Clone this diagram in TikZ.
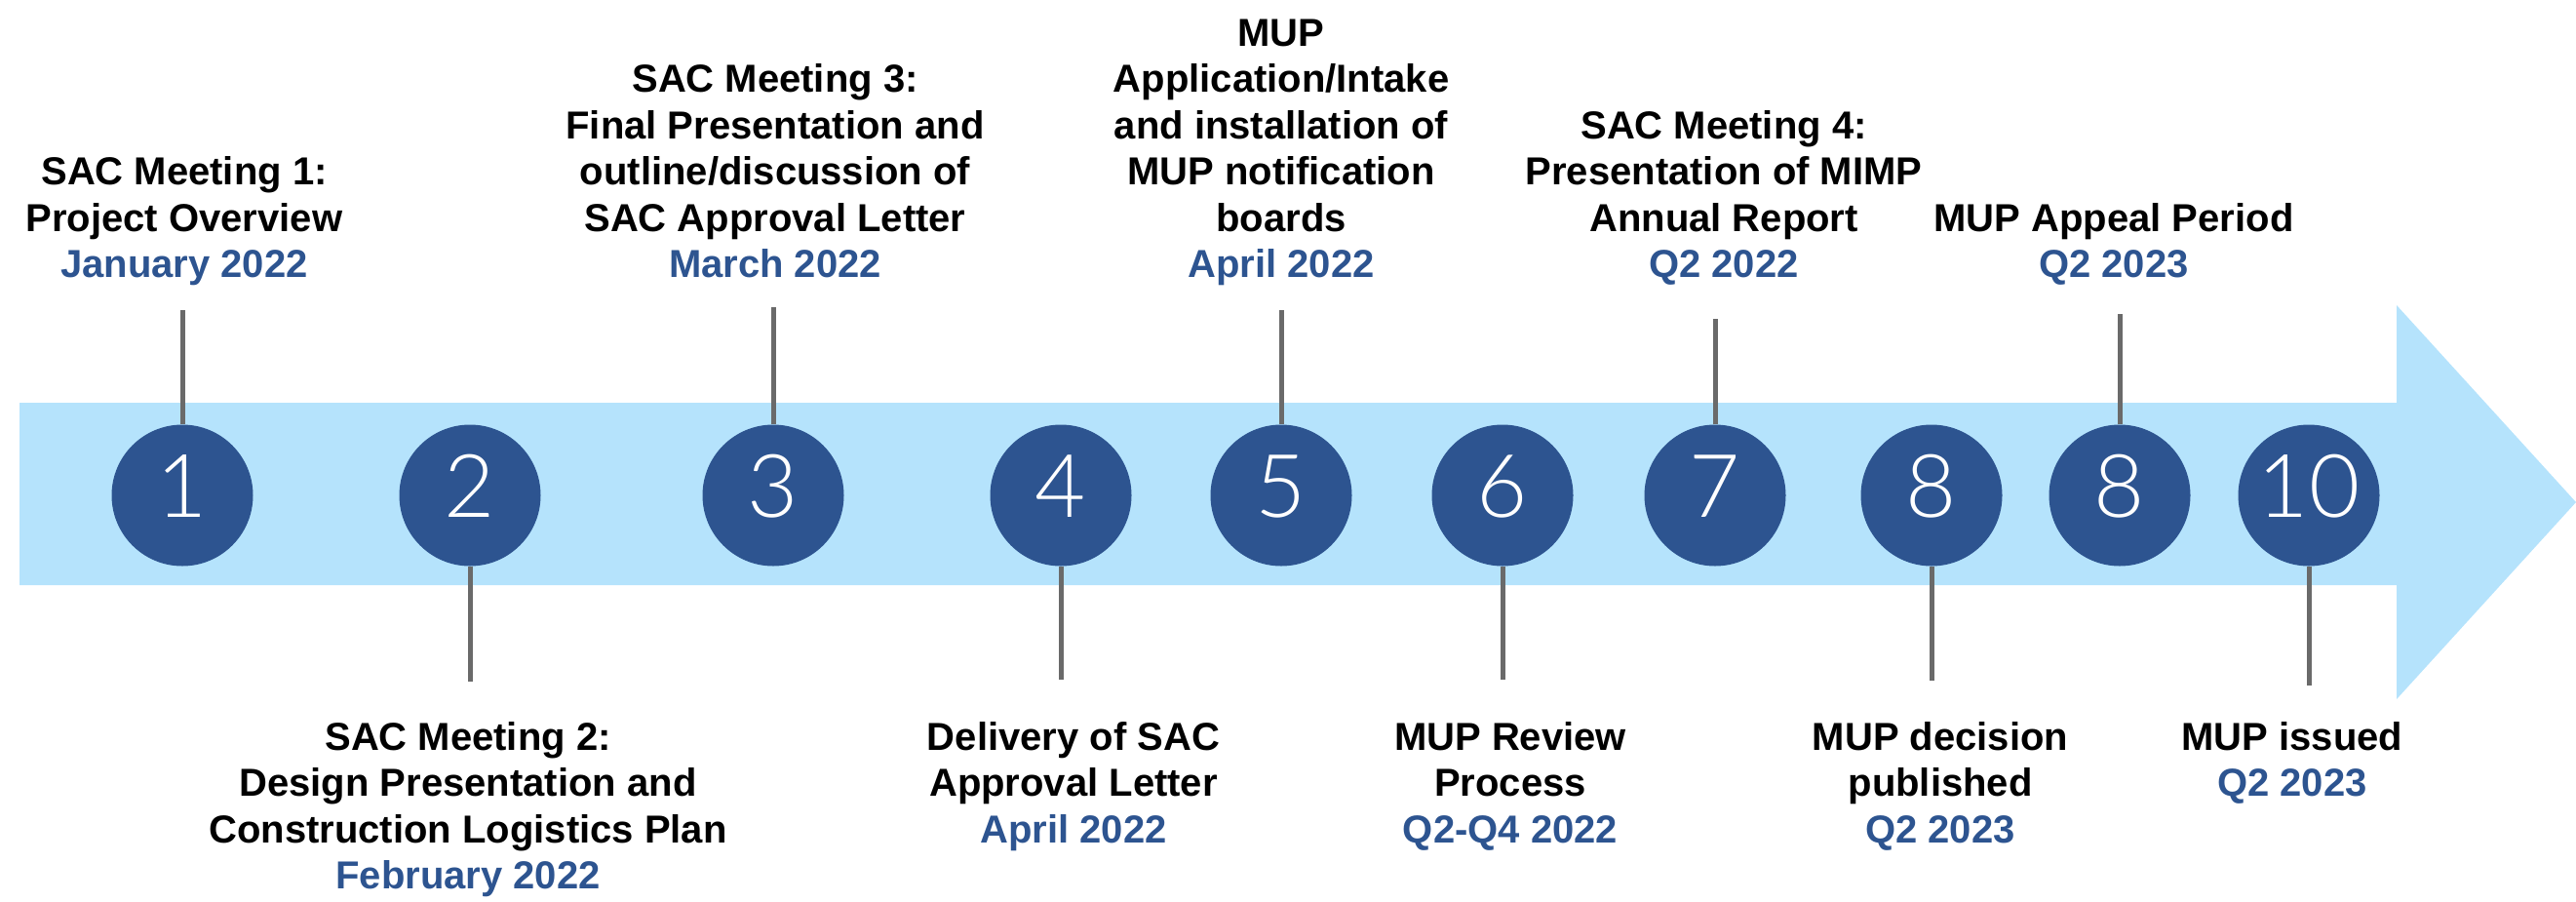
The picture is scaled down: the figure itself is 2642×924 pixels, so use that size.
\documentclass[tikz,border=0pt]{standalone}
\usepackage{fontspec}
\setmainfont{Liberation Sans}
\newfontfamily\numfont{Lato Light}
\definecolor{bandblue}{HTML}{B5E3FC}
\definecolor{dotblue}{HTML}{2D5490}
\definecolor{stemgray}{HTML}{6A6A6A}
\newcommand\dt[1]{\textcolor{dotblue}{#1}}
\begin{document}
\begin{tikzpicture}[x=1pt,y=-1pt,
  dot/.style={circle, fill=dotblue, minimum size=145pt, inner sep=0pt, text=white,
    font=\numfont\fontsize{90}{90}\selectfont, text height=65pt, text depth=20.6pt},
  lbl/.style={align=center, inner sep=0pt, font=\fontsize{40}{47.5}\selectfont\bfseries,
    execute at begin node=\strut, execute at end node=\strut},
  up/.style={lbl, anchor=south},
  down/.style={lbl, anchor=north},
  stem/.style={draw=stemgray, line width=5pt}]
\useasboundingbox (0,0) rectangle (2642,924);
% band arrow
\fill[bandblue] (20,413) -- (2458,413) -- (2458,313) -- (2642,515) -- (2458,717) -- (2458,600) -- (20,600) -- cycle;
% circles
\node[dot] (c1) at (187,508) {1};
\node[dot] (c2) at (482,508) {2};
\node[dot] (c3) at (793,508) {3};
\node[dot] (c4) at (1088,508) {4};
\node[dot] (c5) at (1314,508) {5};
\node[dot] (c6) at (1541,508) {6};
\node[dot] (c7) at (1759,508) {7};
\node[dot] (c8) at (1981,508) {8};
\node[dot] (c9) at (2174,508) {8};
\node[dot] (c10) at (2368,508) {10};
% stem ends
\coordinate (s1) at (187,318);
\coordinate (s3) at (793,315);
\coordinate (s5) at (1314,318);
\coordinate (s7) at (1759,327);
\coordinate (s9) at (2174,322);
\coordinate (s2) at (482,699);
\coordinate (s4) at (1088,697);
\coordinate (s6) at (1541,697);
\coordinate (s8) at (1981,698);
\coordinate (s10) at (2368,703);
\draw[stem] (c1.north) -- (s1);
\draw[stem] (c3.north) -- (s3);
\draw[stem] (c5.north) -- (s5);
\draw[stem] (c7.north) -- (s7);
\draw[stem] (c9.north) -- (s9);
\draw[stem] (c2.south) -- (s2);
\draw[stem] (c4.south) -- (s4);
\draw[stem] (c6.south) -- (s6);
\draw[stem] (c8.south) -- (s8);
\draw[stem] (c10.south) -- (s10);
% labels above
\node[up] (t1) at (189,299) {SAC Meeting 1:\\Project Overview\\\dt{January 2022}};
\node[up] (t3) at (795,299) {SAC Meeting 3:\\Final Presentation and\\outline/discussion of\\SAC Approval Letter\\\dt{March 2022}};
\node[up] (t5) at (1314,299) {MUP\\Application/Intake\\and installation of\\MUP notification\\boards\\\dt{April 2022}};
\node[up] (t7) at (1768,299) {SAC Meeting 4:\\Presentation of MIMP\\Annual Report\\\dt{Q2 2022}};
\node[up] (t9) at (2168,299) {MUP Appeal Period\\\dt{Q2 2023}};
% labels below
\node[down] (t2) at (480,740) {SAC Meeting 2:\\Design Presentation and\\Construction Logistics Plan\\\dt{February 2022}};
\node[down] (t4) at (1101,740) {Delivery of SAC\\Approval Letter\\\dt{April 2022}};
\node[down] (t6) at (1549,740) {MUP Review\\Process\\\dt{Q2-Q4 2022}};
\node[down] (t8) at (1990,740) {MUP decision\\published\\\dt{Q2 2023}};
\node[down] (t10) at (2351,740) {MUP issued\\\dt{Q2 2023}};
\end{tikzpicture}
\end{document}
